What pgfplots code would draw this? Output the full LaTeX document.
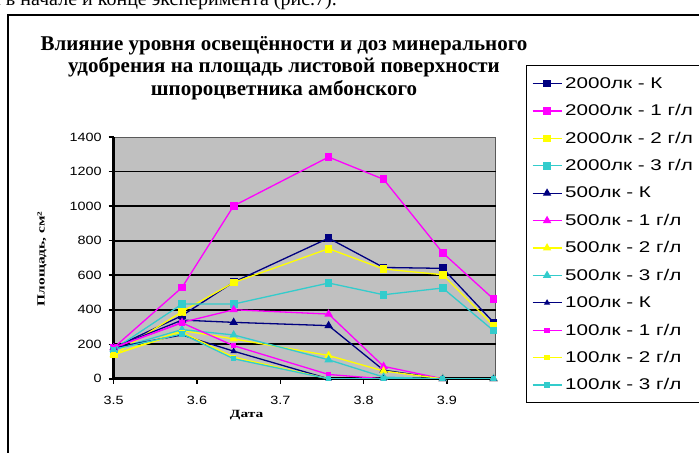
\documentclass[border=0pt]{standalone}
\usepackage{pgfplots}
\usepackage{pgfplotstable}
\pgfplotsset{compat=1.18}
\usepackage{fontspec}
\setmainfont{Liberation Sans}
\newfontfamily\titlefont{Liberation Serif}
\newfontfamily\legfont[FakeStretch=1.33]{Liberation Sans}
\newfontfamily\tickfont[FakeStretch=1.2]{Liberation Sans}
\newfontfamily\labfont[FakeStretch=1.4]{Liberation Serif}

\definecolor{cnavy}{RGB}{0,0,128}
\definecolor{cmag}{RGB}{255,0,255}
\definecolor{cyel}{RGB}{255,255,0}
\definecolor{ccyan}{RGB}{51,204,204}
\definecolor{plotgray}{RGB}{192,192,192}

% legend entries share one width so that the box runs on to the right
\newcommand{\entry}[1]{\makebox[170bp][l]{\hspace{1bp}#1}}

% leaf area, cm^2, by date; columns: control, 1, 2 and 3 g/l
\pgfplotstableread{
x      K    g1    g2   g3
3.500  180  180   140  170
3.582  366  529   389  433
3.644  560  1002  558  433
3.758  815  1285  754  555
3.824  645  1156  636  487
3.895  640  730   603  526
3.956  327  462   308  279
}\luxA
\pgfplotstableread{
x      K    g1    g2   g3
3.500  180  180   140  170
3.582  340  327   280  285
3.644  327  400   231  254
3.758  308  375   135  110
3.824  50   72    45   10
3.895  0    0     0    0
3.956  0    0     0    0
}\luxB
\pgfplotstableread{
x      K    g1    g2   g3
3.500  180  180   140  170
3.582  254  324   269  260
3.644  160  192   125  116
3.758  0    25    0    0
3.824  0    0     0    0
3.895  0    0     0    0
3.956  0    0     0    0
}\luxC

\begin{document}
\begin{tikzpicture}[x=1bp,y=1bp]
% running text of the page above the figure
\node[anchor=base east, inner sep=0pt, font=\titlefont\fontsize{20bp}{24bp}\selectfont]
  at (337,447) {растений в начале и конце эксперимента (рис.7).};
% chart frame
\draw[black, line width=2bp, fill=white] (7.5,438) rectangle (760,-30);
% chart title
\node[align=center, inner sep=0pt, font=\titlefont\bfseries\fontsize{21bp}{22.5bp}\selectfont]
  at (284,385) {Влияние уровня освещённости и доз минерального\\
  удобрения на площадь листовой поверхности\\
  шпороцветника амбонского};
\begin{axis}[
  at={(136.5,43.0)}, anchor=south west,
  scale only axis, width=382bp, height=241.6bp,
  xmin=3.5, xmax=3.9586, ymin=0, ymax=1400,
  axis background/.style={fill=plotgray, draw=gray!70!black, line width=0.8bp},
  axis x line*=bottom, axis y line*=left,
  axis line style={black, line width=2.6bp, -},
  x axis line style={-}, y axis line style={-},
  xtick={3.5,3.6,3.7,3.8,3.9},
  ytick={0,200,...,1200}, extra y ticks={1400}, extra y tick style={grid=none},
  ymajorgrids, major grid style={black, line width=1.6bp},
  tick align=outside, major tick length=5bp,
  tick style={black, line width=1.5bp},
  /pgf/number format/assume math mode=true,
  /pgf/number format/1000 sep={},
  tick label style={font=\tickfont\fontsize{12bp}{14bp}\selectfont},
  yticklabel style={xshift=-3.5bp},
  xticklabel style={yshift=-9bp, /pgf/number format/.cd, fixed, precision=1, fixed zerofill},
  xlabel={Дата}, ylabel={Площадь, см²},
  xlabel style={at={(axis description cs:0.348,0)}, anchor=north, yshift=-28bp,
    font=\labfont\bfseries\fontsize{11bp}{13bp}\selectfont},
  ylabel style={at={(axis description cs:-0.188,0.496)}, anchor=center,
    font=\labfont\bfseries\fontsize{11bp}{13bp}\selectfont},
  every axis plot/.append style={line width=1.3bp, mark options={solid}},
  legend image code/.code={\draw[mark repeat=2, mark phase=2]
    plot coordinates {(0bp,0bp) (14.5bp,0bp) (29bp,0bp)};},
  legend cell align=left,
  legend style={at={(rel axis cs:1.0804,1.297)}, anchor=north west,
    draw=black, line width=1bp, fill=white,
    font=\legfont\fontsize{15.5bp}{18bp}\selectfont,
    row sep=0pt, inner xsep=5bp, inner ysep=4bp,
    nodes={minimum height=27.4bp, inner ysep=0pt}},
]
\addplot[cnavy, mark=square*, mark size=3.2bp] table[x=x, y=K] {\luxA};
\addlegendentry{\entry{2000лк - К}}
\addplot[cmag, mark=square*, mark size=3.2bp] table[x=x, y=g1] {\luxA};
\addlegendentry{\entry{2000лк - 1 г/л}}
\addplot[cyel, mark=square*, mark size=3.2bp] table[x=x, y=g2] {\luxA};
\addlegendentry{\entry{2000лк - 2 г/л}}
\addplot[ccyan, mark=square*, mark size=3.2bp] table[x=x, y=g3] {\luxA};
\addlegendentry{\entry{2000лк - 3 г/л}}
\addplot[cnavy, mark=triangle*, mark size=3.6bp] table[x=x, y=K] {\luxB};
\addlegendentry{\entry{500лк - К}}
\addplot[cmag, mark=triangle*, mark size=3.6bp] table[x=x, y=g1] {\luxB};
\addlegendentry{\entry{500лк - 1 г/л}}
\addplot[cyel, mark=triangle*, mark size=3.6bp] table[x=x, y=g2] {\luxB};
\addlegendentry{\entry{500лк - 2 г/л}}
\addplot[ccyan, mark=triangle*, mark size=3.6bp] table[x=x, y=g3] {\luxB};
\addlegendentry{\entry{500лк - 3 г/л}}
\addplot[cnavy, mark=triangle*, mark size=2.4bp] table[x=x, y=K] {\luxC};
\addlegendentry{\entry{100лк - К}}
\addplot[cmag, mark=square*, mark size=2bp] table[x=x, y=g1] {\luxC};
\addlegendentry{\entry{100лк - 1 г/л}}
\addplot[cyel, mark=square*, mark size=2bp] table[x=x, y=g2] {\luxC};
\addlegendentry{\entry{100лк - 2 г/л}}
\addplot[ccyan, mark=square*, mark size=2bp] table[x=x, y=g3] {\luxC};
\addlegendentry{\entry{100лк - 3 г/л}}
\end{axis}
% the page shows a fixed window of the figure
\pgfresetboundingbox
\path[use as bounding box] (0,0) rectangle (699,453);
\end{tikzpicture}
\end{document}
